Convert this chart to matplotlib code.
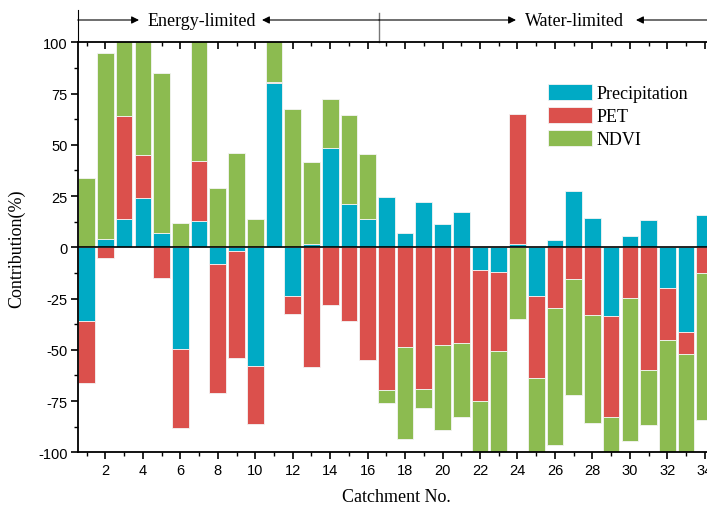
import numpy as np
import matplotlib
matplotlib.use("Agg")
import matplotlib.pyplot as plt
from matplotlib.ticker import MultipleLocator

plt.rcParams["axes.unicode_minus"] = False

catchments = list(range(1, 35))
precip = [-36, 4, 14, 24, 7, -49.4, 13, -8.3, -1.8, -57.7, 80, -23.9, 1.5, 48.3, 21.3, 14,
          24.4, 6.8, 21.9, 11.2, 17.2, -11.2, -11.9, 1.6, -23.7, 3.6, 27.6, 14.1, -33.5, 5.7,
          13.3, -20, -41.3, 15.6]
pet = [-30, -5, 50, 21, -15, -38.7, 29, -62.6, -52.2, -28.5, 0.5, -8.8, -58.4, -28, -35.9, -55.1,
       -69.6, -48.5, -69.1, -47.6, -46.5, -63.9, -38.5, 63.6, -40, -29.6, -15.3, -33.2, -49.4,
       -24.7, -59.7, -25.2, -10.7, -12.4]
ndvi = [34, 91, 40, 58, 78, 12, 60, 29, 46, 14, 22, 67.5, 40.3, 24, 43, 31.4, -6.2, -45, -9.3,
        -41.3, -36.4, -27, -52, -35, -38, -67, -56.9, -52.5, -19, -69.6, -27, -57, -50, -72]
series = [("Precipitation", precip, "#00AAC5"),
          ("PET", pet, "#DB504C"),
          ("NDVI", ndvi, "#8CBB50")]
regime_labels = ["Energy-limited", "Water-limited"]

serif = ["Liberation Serif", "DejaVu Serif"]
sans = ["Liberation Sans", "DejaVu Sans"]

fig = plt.figure(figsize=(7.07, 5.06), dpi=100)
W, H = 707, 506
left_px, top_px, bot_px = 77.7, 43.3, 453.3
xmin, xmax = 0.52, 35.5
px_per_unit = 18.73
width_px = (xmax - xmin) * px_per_unit
ax = fig.add_axes([left_px / W, (H - bot_px) / H, width_px / W, (bot_px - top_px) / H])

x = np.array(catchments, dtype=float)
pos_base = np.zeros(len(x))
neg_base = np.zeros(len(x))
for name, vals, col in series:
    v = np.array(vals, dtype=float)
    base = np.where(v >= 0, pos_base, neg_base)
    ax.bar(x, v, width=0.89, bottom=base, color=col, edgecolor="#f4f4f4",
           linewidth=0.6, label=name, zorder=2)
    pos_base = pos_base + np.where(v >= 0, v, 0)
    neg_base = neg_base + np.where(v < 0, v, 0)

ax.axhline(0, color="black", lw=1.2, zorder=3)
ax.set_xlim(xmin, xmax)
ax.set_ylim(-100, 100)

ax.spines["right"].set_visible(False)
for s in ["left", "bottom", "top"]:
    ax.spines[s].set_linewidth(1.3)

ax.xaxis.set_major_locator(MultipleLocator(2))
ax.xaxis.set_minor_locator(MultipleLocator(1))
ax.yaxis.set_major_locator(MultipleLocator(25))
ax.yaxis.set_minor_locator(MultipleLocator(12.5))
ax.tick_params(axis="x", which="major", direction="out", length=5, width=1.2,
               top=True, labelsize=10.5, pad=3)
ax.tick_params(axis="x", which="minor", direction="out", length=3, width=1.0, top=True)
ax.tick_params(axis="y", which="major", direction="out", length=5, width=1.2, labelsize=10.5, pad=2)
ax.tick_params(axis="y", which="minor", direction="out", length=3, width=1.0)
# top ticks point inward
for t in ax.xaxis.get_major_ticks():
    t.tick2line.set_marker(matplotlib.lines.TICKDOWN)
    t.tick2line.set_markersize(5)
for t in ax.xaxis.get_minor_ticks():
    t.tick2line.set_marker(matplotlib.lines.TICKDOWN)
    t.tick2line.set_markersize(3)
for lab in ax.get_xticklabels() + ax.get_yticklabels():
    lab.set_fontfamily(sans)

ax.set_xlabel("Catchment No.", fontfamily=serif, fontsize=13)
ax.set_ylabel("Contribution(%)", fontfamily=serif, fontsize=13)
ax.xaxis.set_label_coords((396 - left_px) / width_px, -0.088)
ax.yaxis.set_label_coords(-(left_px - 25) / width_px, 0.5)

leg = ax.legend(loc="upper left", bbox_to_anchor=(541 / W, (H - 78) / H),
                bbox_transform=fig.transFigure, frameon=False,
                prop={"family": serif, "size": 13}, handlelength=2.4, handleheight=1.0,
                labelspacing=0.25, handletextpad=0.3, borderaxespad=0)

# regime annotation above the plot
trans = ax.get_xaxis_transform()
def fx(px):
    return xmin + (px - left_px) / px_per_unit
def fy(py):
    return 1 + (top_px - py) / (bot_px - top_px)

yl = fy(21)
ax.plot([xmin, xmin], [1.0, fy(11)], transform=trans, color="black", lw=0.8, clip_on=False)
ax.plot([fx(379), fx(379)], [1.0, fy(14)], transform=trans, color="#777777", lw=1.0, clip_on=False)
arrow = dict(arrowstyle="-|>", color="black", lw=0.8, mutation_scale=11, shrinkA=0, shrinkB=0)
ax.annotate("", xy=(fx(139), yl), xytext=(xmin, yl), xycoords=trans, textcoords=trans, arrowprops=arrow)
ax.annotate("", xy=(fx(262), yl), xytext=(fx(379), yl), xycoords=trans, textcoords=trans, arrowprops=arrow)
ax.annotate("", xy=(fx(516), yl), xytext=(fx(379), yl), xycoords=trans, textcoords=trans, arrowprops=arrow)
ax.annotate("", xy=(fx(636), yl), xytext=(fx(760), yl), xycoords=trans, textcoords=trans, arrowprops=arrow)
ax.text(fx(201.5), yl, regime_labels[0], transform=trans, ha="center", va="center",
        fontfamily=serif, fontsize=13)
ax.text(fx(574), yl, regime_labels[1], transform=trans, ha="center", va="center",
        fontfamily=serif, fontsize=13)

fig.savefig("out.png", dpi=100)
